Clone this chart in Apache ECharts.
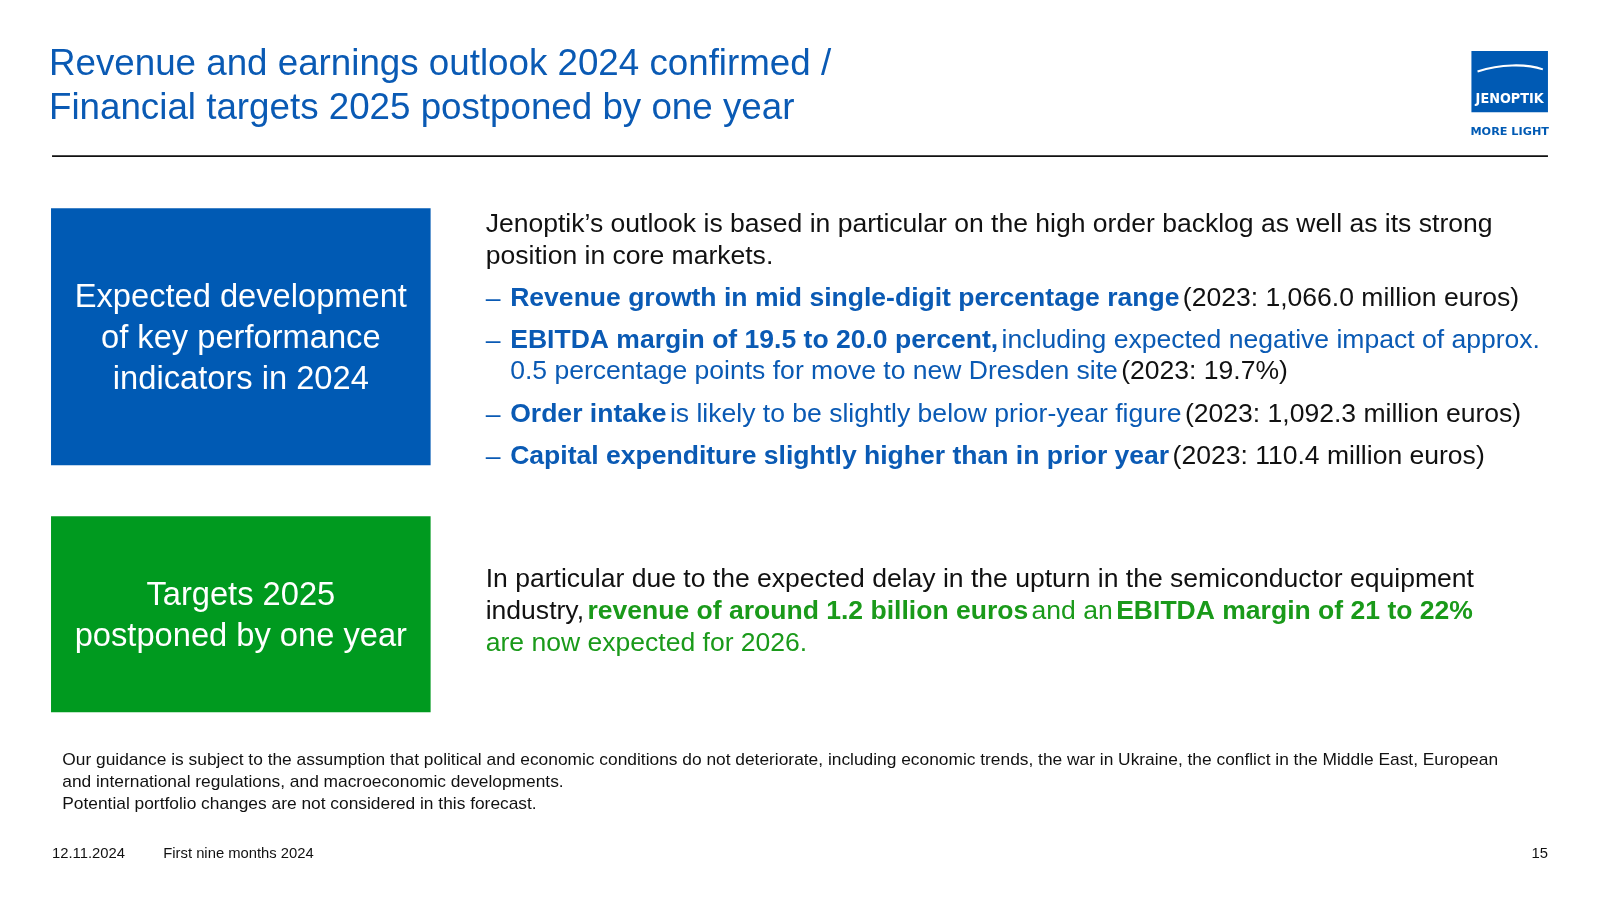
<!DOCTYPE html>
<html><head><meta charset="utf-8">
<script src="https://cdn.jsdelivr.net/npm/echarts@6/dist/echarts.min.js"></script>
<style>html,body{margin:0;padding:0;background:#fff}#c{width:1600px;height:900px}</style>
</head><body><div id="c"></div>
<script>
const titleLines = ["Revenue and earnings outlook 2024 confirmed /", "Financial targets 2025 postponed by one year"];
const box1Lines = ["Expected development", "of key performance", "indicators in 2024"];
const box2Lines = ["Targets 2025", "postponed by one year"];
const introText = "{k|Jenoptik\u2019s outlook is based in particular on the high order backlog as well as its strong}\n{k|position in core markets.}";
const bullets = [
  "{b|Revenue growth in mid single-digit percentage range} {k|(2023: 1,066.0 million euros)}",
  "{b|EBITDA margin of 19.5 to 20.0 percent,} {n|including expected negative impact of approx.}\n{n|0.5 percentage points for move to new Dresden site} {k|(2023: 19.7%)}",
  "{b|Order intake} {n|is likely to be slightly below prior-year figure} {k|(2023: 1,092.3 million euros)}",
  "{b|Capital expenditure slightly higher than in prior year} {k|(2023: 110.4 million euros)}"
];
const bulletY = [291, 332, 405, 446];
const targetText = "{k|In particular due to the expected delay in the upturn in the semiconductor equipment}\n{k|industry,} {g|revenue of around 1.2 billion euros} {gn|and an} {g|EBITDA margin of 21 to 22%}\n{gn|are now expected for 2026.}";
const footnote = ["Our guidance is subject to the assumption that political and economic conditions do not deteriorate, including economic trends, the war in Ukraine, the conflict in the Middle East, European", "and international regulations, and macroeconomic developments.", "Potential portfolio changes are not considered in this forecast."];
const footer = ["12.11.2024", "First nine months 2024", "15"];

const BLUE = '#0a5ab4', GREEN = '#1a9a1a', F = 'Liberation Sans, Arial, sans-serif';
const FS = 26;
const rich = {
  k: {fill:'#111', fontSize:FS, fontFamily:F, lineHeight:31},
  b: {fill:BLUE, fontSize:FS, fontWeight:'bold', fontFamily:F, lineHeight:31},
  n: {fill:BLUE, fontSize:FS, fontFamily:F, lineHeight:31},
  g: {fill:GREEN, fontSize:FS, fontWeight:'bold', fontFamily:F, lineHeight:31},
  gn: {fill:GREEN, fontSize:FS, fontFamily:F, lineHeight:31}
};
const T = (x,y,style)=>({type:'text',x,y,style:Object.assign({verticalAlign:'top'},style)});
const els = [];
titleLines.forEach((t,i)=>els.push(T(48,46+i*43,{text:t,fill:BLUE,fontSize:36,fontFamily:F})));
els.push({type:'line',shape:{x1:51,y1:153,x2:1517,y2:153},style:{stroke:'#111',lineWidth:1.5}});
els.push({type:'rect',shape:{x:1442,y:50,width:75,height:60},style:{fill:'#005ab4'}});
els.push({type:'bezierCurve',shape:{x1:1448,y1:70,x2:1512,y2:68,cpx1:1470,cpy1:63,cpx2:1495,cpy2:62},style:{stroke:'#fff',lineWidth:2,fill:null}});
els.push({type:'text',x:1479.5,y:97,style:{text:'JENOPTIK',fill:'#fff',fontSize:14,fontWeight:'bold',fontFamily:'DejaVu Sans Condensed, sans-serif',align:'center',verticalAlign:'middle'}});
els.push({type:'text',x:1479.5,y:129,style:{text:'MORE LIGHT',fill:'#005ab4',fontSize:11,fontWeight:'bold',fontFamily:'DejaVu Sans, sans-serif',align:'center',verticalAlign:'middle'}});
els.push({type:'rect',shape:{x:50,y:204,width:372,height:252},style:{fill:'#005ab4'}});
els.push({type:'text',x:236,y:332,style:{text:box1Lines.join('\n'),fill:'#fff',fontSize:32,lineHeight:40,fontFamily:F,align:'center',verticalAlign:'middle'}});
els.push({type:'rect',shape:{x:50,y:506,width:372,height:192},style:{fill:'#009a1f'}});
els.push({type:'text',x:236,y:604,style:{text:box2Lines.join('\n'),fill:'#fff',fontSize:32,lineHeight:40,fontFamily:F,align:'center',verticalAlign:'middle'}});
els.push(T(476,205,{text:introText,rich}));
bullets.forEach((b,i)=>{
  els.push(T(476,bulletY[i]-13,{text:'\u2013',fill:BLUE,fontSize:FS,fontFamily:F,lineHeight:31}));
  els.push(T(500,bulletY[i]-14,{text:b,rich}));
});
els.push(T(476,553,{text:targetText,rich}));
footnote.forEach((t,i)=>els.push(T(61,737+i*21.5,{text:t,fill:'#111',fontSize:17,fontFamily:F})));
els.push(T(51,829,{text:footer[0],fill:'#111',fontSize:14.5,fontFamily:F}));
els.push(T(160,829,{text:footer[1],fill:'#111',fontSize:14.5,fontFamily:F}));
els.push(T(1517,829,{text:footer[2],fill:'#111',fontSize:14.5,fontFamily:F,align:'right'}));
const S = 1600/1568;
const chart = echarts.init(document.getElementById('c'));
chart.setOption({backgroundColor:'#fff',graphic:{elements:[{type:'group',x:0,y:0,scaleX:S,scaleY:S,children:els}]}});
</script></body></html>
